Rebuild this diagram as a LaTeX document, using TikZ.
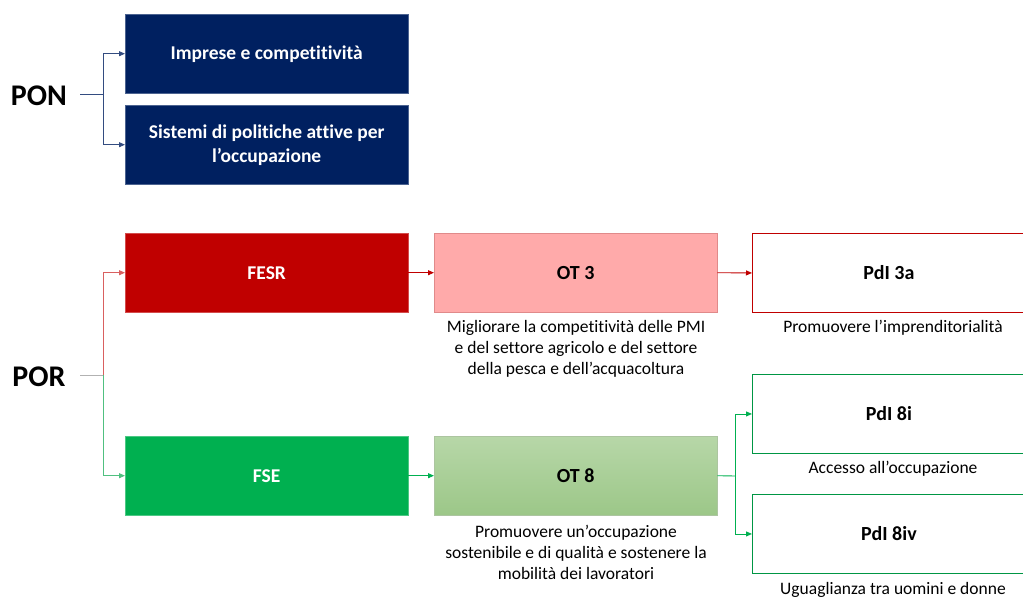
\documentclass[tikz,border=0pt]{standalone}
\usepackage{fontspec}
\setmainfont[Ligatures=NoCommon]{Carlito}
\usetikzlibrary{arrows.meta}
\definecolor{navy}{HTML}{002060}
\definecolor{dred}{HTML}{C00000}
\definecolor{dgreen}{HTML}{00B050}
\definecolor{pinkf}{HTML}{FFAAAA}
\definecolor{pinkb}{HTML}{E08A8A}
\definecolor{gtop}{HTML}{B7D7A8}
\definecolor{gbot}{HTML}{9CC788}
\definecolor{lred}{HTML}{D96060}
\definecolor{lgreen}{HTML}{50C080}
\begin{document}
\begin{tikzpicture}[x=1pt,y=-1pt,
  box/.style={minimum width=283pt,minimum height=79pt,inner sep=0pt,align=center,anchor=north west},
  darkbox/.style={box,font=\fontsize{19.5}{24}\selectfont\bfseries,text=white},
  lightbox/.style={box,font=\fontsize{20}{23}\selectfont\bfseries},
  pdibox/.style={lightbox,minimum width=273pt,fill=white,line width=0.9pt},
  lbl/.style={font=\fontsize{30}{34}\selectfont\bfseries},
  desc/.style={font=\fontsize{17.5}{21}\selectfont,align=center,anchor=north,inner sep=0pt},
  conn/.style={line width=0.9pt,-{Triangle[length=6pt,width=5pt]}},
  plain/.style={line width=0.9pt}
]
\useasboundingbox (0,0) rectangle (1023,597);
% PON
\node[lbl] (pon) at (39,96) {PON};
\node[darkbox,fill=navy,draw=navy!70] (imp) at (125,14) {Imprese e competitività};
\node[darkbox,fill=navy,draw=navy!70] (sis) at (125,105) {Sistemi di politiche attive per\\l’occupazione};
\coordinate (ps) at (80,94);
\coordinate (pj) at (103,94);
\draw[plain,navy!80] (ps) -- (pj);
\draw[conn,navy!80] (pj) |- (imp.west);
\draw[conn,navy!80] (pj) |- (sis.west);
% POR
\node[lbl] (por) at (39,377) {POR};
\node[darkbox,fill=dred,draw=dred!70] (fesr) at (125,233) {FESR};
\node[darkbox,fill=dgreen,draw=dgreen!70] (fse) at (125,436) {FSE};
\coordinate (rs) at (80,375);
\coordinate (rj) at (103,375);
\draw[plain,gray!60] (rs) -- (rj);
\draw[conn,lred] (rj) |- (fesr.west);
\draw[conn,lgreen] (rj) |- (fse.west);
% OT
\node[lightbox,fill=pinkf,draw=pinkb] (ot3) at (434,233) {OT 3};
\node[lightbox,top color=gtop,bottom color=gbot,draw=gtop!80!gray] (ot8) at (434,436) {OT 8};
\draw[conn,dred] (fesr.east) -- (ot3.west);
\draw[conn,dgreen] (fse.east) -- (ot8.west);
\node[desc] (d3) at (576,320) {Migliorare la competitività delle PMI\\e del settore agricolo e del settore\\della pesca e dell’acquacoltura};
\node[desc] (d8) at (576,525) {Promuovere un’occupazione\\sostenibile e di qualità e sostenere la\\mobilità dei lavoratori};
% PdI
\node[pdibox,draw=dred] (p3a) at (752,233) {PdI 3a};
\node[pdibox,draw=dgreen!85!black] (p8i) at (752,374) {PdI 8i};
\node[pdibox,draw=dgreen!85!black] (p8iv) at (752,494) {PdI 8iv};
\draw[conn,dred] (ot3.east) -- (p3a.west);
\coordinate (oj) at (735,476);
\draw[plain,dgreen] (ot8.east) -- (oj);
\draw[conn,dgreen] (oj) |- (p8i.west);
\draw[conn,dgreen] (oj) |- (p8iv.west);
\node[desc] (dp3) at (893,320) {Promuovere l’imprenditorialità};
\node[desc] (dp8i) at (893,461) {Accesso all’occupazione};
\node[desc] (dp8iv) at (893,582) {Uguaglianza tra uomini e donne};
\end{tikzpicture}
\end{document}
